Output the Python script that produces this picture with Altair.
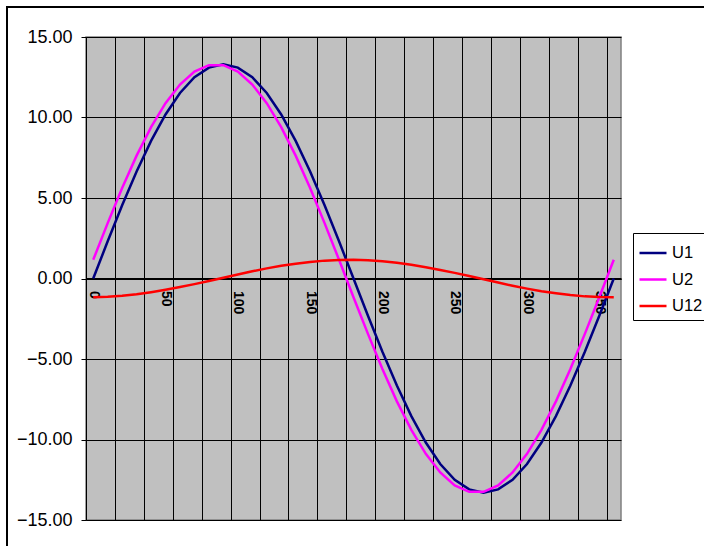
import altair as alt
import pandas as pd

# Angle in degrees (0..360, step 10)
angle = [0, 10, 20, 30, 40, 50, 60, 70, 80, 90, 100, 110, 120, 130, 140, 150, 160, 170, 180,
         190, 200, 210, 220, 230, 240, 250, 260, 270, 280, 290, 300, 310, 320, 330, 340, 350, 360]

u1 = [0.00, 2.31, 4.55, 6.65, 8.55, 10.19, 11.52, 12.50, 13.10, 13.30, 13.10, 12.50, 11.52,
      10.19, 8.55, 6.65, 4.55, 2.31, 0.00, -2.31, -4.55, -6.65, -8.55, -10.19, -11.52, -12.50,
      -13.10, -13.30, -13.10, -12.50, -11.52, -10.19, -8.55, -6.65, -4.55, -2.31, 0.00]

u2 = [1.16, 3.44, 5.62, 7.63, 9.40, 10.89, 12.05, 12.85, 13.25, 13.25, 12.85, 12.05, 10.89,
      9.40, 7.63, 5.62, 3.44, 1.16, -1.16, -3.44, -5.62, -7.63, -9.40, -10.89, -12.05, -12.85,
      -13.25, -13.25, -12.85, -12.05, -10.89, -9.40, -7.63, -5.62, -3.44, -1.16, 1.16]

u12 = [-1.16, -1.13, -1.07, -0.98, -0.85, -0.70, -0.53, -0.35, -0.15, 0.05, 0.25, 0.45, 0.63,
       0.79, 0.92, 1.03, 1.11, 1.15, 1.16, 1.13, 1.07, 0.98, 0.85, 0.70, 0.53, 0.35, 0.15,
       -0.05, -0.25, -0.45, -0.63, -0.79, -0.92, -1.03, -1.11, -1.15, -1.16]

series_names = ["U1", "U2", "U12"]
series_colors = ["#000080", "#FF00FF", "#FF0000"]
series_widths = [2.5, 2.5, 4.5]

# Axis positions: category boundaries every 20 degrees get grid/ticks,
# labels every 50 degrees
grid_pos = list(range(-5, 360, 20))
label_pos = list(range(0, 351, 50))
y_ticks = [-15, -10, -5, 0, 5, 10, 15]

rows = []
for name, vals in zip(series_names, [u1, u2, u12]):
    for a, v in zip(angle, vals):
        rows.append({"angle": a, "value": v, "series": name})
df = pd.DataFrame(rows)

W, H = 535, 483
FONT = "Liberation Sans, Arial"
is_label = "datum.value % 50 == 0"

x_axis = alt.Axis(
    values=sorted(grid_pos + label_pos),
    labelExpr=f"{is_label} ? datum.label : ''",
    labelAngle=90,
    labelFont=FONT,
    labelFontSize=14,
    labelFontWeight="bold",
    labelColor="black",
    labelPadding=8,
    labelOverlap=False,
    labelFlush=False,
    grid=True,
    gridColor="black",
    gridWidth=1,
    gridOpacity={"condition": {"test": is_label, "value": 0}, "value": 1},
    tickOpacity={"condition": {"test": is_label, "value": 0}, "value": 1},
    tickColor="black",
    tickSize=4,
    domainColor="black",
    domainWidth=2,
    offset=-H / 2,
    title=None,
)

y_axis = alt.Axis(
    values=y_ticks,
    format=".2f",
    labelFont=FONT,
    labelFontSize=18,
    labelColor="black",
    labelPadding=9,
    grid=True,
    gridColor="black",
    gridWidth=1,
    tickColor="black",
    tickSize=5,
    domainColor="black",
    domainWidth=1,
    title=None,
)

lines = alt.Chart(df).mark_line().encode(
    x=alt.X("angle:Q", scale=alt.Scale(domain=[-5, 365], nice=False, zero=False), axis=x_axis),
    y=alt.Y("value:Q", scale=alt.Scale(domain=[-15, 15], nice=False), axis=y_axis),
    color=alt.Color(
        "series:N",
        scale=alt.Scale(domain=series_names, range=series_colors),
        sort=series_names,
        legend=alt.Legend(
            orient="none",
            legendX=547,
            legendY=196,
            title=None,
            fillColor="white",
            strokeColor="black",
            padding=5,
            symbolType="stroke",
            symbolSize=729,
            symbolStrokeWidth=3.5,
            labelFont=FONT,
            labelFontSize=16.5,
            labelColor="black",
            labelOffset=4,
            rowPadding=2.5,
        ),
    ),
    strokeWidth=alt.StrokeWidth(
        "series:N",
        scale=alt.Scale(domain=series_names, range=series_widths),
        legend=None,
    ),
)

# Outer chart frame
frame = alt.Chart(alt.Data(values=[{}])).mark_rect(
    fill="transparent", stroke="black", strokeWidth=2
).encode(
    x=alt.value(-79),
    x2=alt.value(W + 200),
    y=alt.value(-30),
    y2=alt.value(H + 200),
)

chart = alt.layer(lines, frame).properties(
    width=W,
    height=H,
    autosize=alt.AutoSizeParams(type="none"),
    padding={"left": 86, "top": 37, "right": 83, "bottom": 26},
    background="white",
).configure_view(
    fill="#C0C0C0",
    stroke="#808080",
    strokeWidth=1.5,
)

chart.save("out.html", embed_options={"renderer": "svg", "actions": False})
